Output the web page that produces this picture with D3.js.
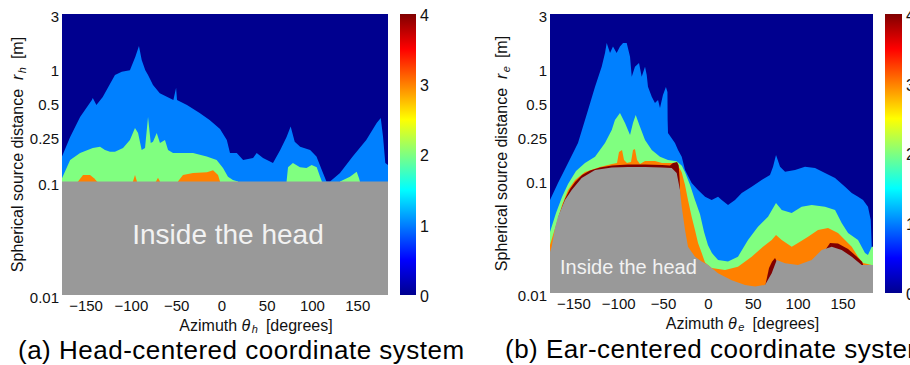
<!DOCTYPE html>
<html>
<head>
<meta charset="utf-8">
<script src="https://cdn.jsdelivr.net/npm/d3@7"></script>
<style>
  body { margin: 0; background: #fff; }
  svg { display: block; }
</style>
</head>
<body>
<svg id="chart" width="910" height="365"></svg>
<script>
// ---------------- data ----------------
const thetaTicks = [-150, -100, -50, 0, 50, 100, 150];
const rTicks = [0.01, 0.1, 0.25, 0.5, 1, 3];
const barTicks = [0, 1, 2, 3, 4];
const thetaRange = [-176, 184];
const rRange = [0.01, 3];

// (a) head-centered: upper edge [azimuth deg, distance m] of each contour band
const headA = [[-176, 0.1], [184, 0.1]];
const blueA = [[-176,0.166],[-167,0.247],[-156,0.371],[-143,0.523],[-142,0.545],[-138,0.473],[-131,0.556],[-117.5,0.87],[-110,0.93],[-101,0.96],[-95,1.26],[-91,1.57],[-88,1.18],[-84,0.96],[-81,0.87],[-75.5,0.71],[-68,0.6],[-53,0.523],[-50,0.67],[-49,0.523],[-38,0.473],[-24,0.402],[-13,0.349],[-1.5,0.29],[6,0.232],[9.5,0.179],[17,0.179],[24,0.155],[35,0.161],[39,0.179],[46,0.161],[57,0.146],[65,0.19],[72,0.247],[76.5,0.305],[81,0.224],[87,0.203],[98,0.19],[105,0.166],[111,0.126],[116,0.1],[120,0.1],[131,0.119],[145,0.166],[160,0.232],[171.5,0.328],[176,0.363],[178.5,0.25],[181,0.146],[184,0.14]];
const greenA = [
  [[-176,0.107],[-167,0.155],[-156,0.179],[-142,0.198],[-134,0.203],[-128.5,0.19],[-123,0.183],[-117.5,0.183],[-108.6,0.198],[-101,0.232],[-95.4,0.297],[-92,0.268],[-88,0.19],[-84.3,0.198],[-81,0.371],[-78,0.219],[-75.5,0.224],[-71.4,0.268],[-67.8,0.219],[-62.3,0.232],[-58.9,0.19],[-53.4,0.179],[-31.3,0.179],[-16.2,0.166],[-5.2,0.155],[1.8,0.132],[7.3,0.11],[12.8,0.103],[18.4,0.1]],
  [[72,0.1],[73.6,0.134],[79,0.146],[86.8,0.134],[94,0.132],[99.7,0.14],[105.3,0.134],[109,0.11],[111,0.1]],
  [[131,0.1],[142,0.11],[149.4,0.122],[152,0.107],[153,0.1]]
];
const orangeA = [
  [[-158.3,0.1],[-152.8,0.114],[-145,0.114],[-140.6,0.107],[-137.3,0.1]],
  [[-97.6,0.1],[-95.4,0.114],[-93.2,0.1]],
  [[-72.2,0.1],[-70,0.108],[-67.8,0.1]],
  [[-48,0.1],[-42.4,0.114],[-31.3,0.119],[-15.9,0.121],[-9.2,0.126],[-3.7,0.114],[-1.5,0.1]]
];

// (b) ear-centered
const headB = [[-176,0.0231],[-174.1,0.0258],[-170.4,0.0378],[-167.1,0.0476],[-159.3,0.0669],[-151.8,0.0821],[-140.7,0.105],[-125.8,0.1236],[-107.2,0.13],[-89.1,0.1314],[-70.1,0.1314],[-51.5,0.13],[-40.4,0.1288],[-34.8,0.1162],[-31.1,0.0821],[-29.2,0.0584],[-25.5,0.0362],[-22.2,0.0258],[-14.4,0.021],[-6.9,0.019],[0.1,0.0177],[11.3,0.015],[26.5,0.013],[41.4,0.0118],[52.5,0.0114],[63.6,0.0118],[71.1,0.015],[76.7,0.0196],[86,0.0184],[100.4,0.0177],[115.7,0.0196],[126.8,0.0241],[138,0.0258],[149.1,0.0241],[160.3,0.021],[171.4,0.0177],[182.6,0.0177],[184,0.0177]];
const blueB = [[-176,0.0669],[-167.1,0.0947],[-155.9,0.1426],[-144.8,0.215],[-133.6,0.421],[-125.8,0.679],[-118.4,1.02],[-114.7,1.35],[-112.8,1.66],[-109.1,1.35],[-105.8,1.54],[-101.7,1.35],[-98,1.54],[-94.6,1.66],[-90.5,1.66],[-86.8,1.25],[-84.9,0.832],[-81.3,1.02],[-76.8,1.1],[-73.8,0.832],[-70.1,1.02],[-68.2,0.862],[-66.8,0.679],[-62.6,0.553],[-59,0.486],[-55.6,0.517],[-53.4,0.439],[-50.1,0.573],[-46.8,0.675],[-45.1,0.609],[-44.9,0.343],[-44.5,0.263],[-36.7,0.215],[-33.3,0.186],[-29.2,0.162],[-25.5,0.1236],[-18.1,0.0947],[-11,0.0821],[-3.2,0.0716],[4.2,0.0669],[11.3,0.0716],[15.4,0.0669],[22.4,0.0604],[30.2,0.0669],[37.7,0.0772],[48.8,0.0879],[59.9,0.1008],[69.2,0.1116],[72.6,0.132],[75.9,0.168],[80.4,0.132],[86,0.1194],[97.1,0.1236],[108.2,0.132],[119.4,0.129],[130.5,0.1162],[141.7,0.105],[152.8,0.0879],[160.3,0.0772],[167.3,0.0716],[172.9,0.0669],[178.4,0.0584],[181.5,0.0445],[182.6,0.0258],[184,0.0226]];
const greenB = [[-176,0.0348],[-169.3,0.0513],[-162.6,0.0712],[-155.9,0.0928],[-147,0.121],[-137,0.1426],[-125.8,0.162],[-114.7,0.215],[-107.2,0.28],[-103.6,0.343],[-98,0.396],[-92.4,0.323],[-86.8,0.253],[-83.5,0.323],[-80.5,0.38],[-75.7,0.3],[-70.1,0.228],[-62.6,0.186],[-53.4,0.162],[-44.5,0.152],[-34.8,0.148],[-29,0.135],[-25.5,0.118],[-19.9,0.091],[-14.4,0.0669],[-8.8,0.05],[-4.3,0.0348],[0.1,0.0266],[4.5,0.0226],[11.3,0.0196],[22.4,0.019],[33.5,0.021],[44.7,0.0295],[55.8,0.0388],[67,0.0476],[75.9,0.063],[82.3,0.0546],[93.4,0.0513],[104.5,0.0584],[115.7,0.0604],[130.5,0.0584],[141.7,0.0546],[149.1,0.0418],[156.2,0.0341],[167.3,0.0295],[175.1,0.0226],[178.4,0.0217],[182.6,0.0258],[184,0.0258]];
const orangeB = [[-176,0.0267],[-169.3,0.0402],[-162.6,0.0604],[-155.9,0.0821],[-148.1,0.1008],[-137,0.1187],[-120.3,0.1314],[-106.9,0.1397],[-101.3,0.1426],[-99.1,0.1786],[-95.7,0.186],[-93.5,0.152],[-90.2,0.1426],[-85.7,0.1456],[-83.5,0.186],[-81.3,0.19],[-79,0.152],[-75.7,0.1397],[-70.1,0.1486],[-59,0.1486],[-51.2,0.1426],[-42.3,0.1426],[-34.8,0.1426],[-29.2,0.118],[-25.5,0.091],[-22.2,0.0669],[-18.1,0.0476],[-14.4,0.0362],[-11,0.0278],[-6.9,0.0226],[-3.2,0.0187],[4.2,0.0167],[19.1,0.016],[33.5,0.0171],[48.8,0.021],[61.4,0.0258],[71.1,0.0295],[75.9,0.0327],[82.3,0.0295],[93.4,0.0258],[100.4,0.0278],[111.6,0.0316],[122.7,0.0362],[133.9,0.0378],[145,0.0341],[152.8,0.0295],[160.3,0.0258],[167.3,0.021],[172.9,0.0185],[182.6,0.0177],[184,0.0177]];
const redB = [
  [[-167.1,0.0463],[-159.3,0.0683],[-153.7,0.0838],[-148.1,0.0967],[-140.3,0.1116],[-131.4,0.1224],[-120.3,0.13],[-106.9,0.1355],[-89.1,0.1383],[-70.1,0.1383],[-51.2,0.137],[-42.3,0.1355],[-38.9,0.1426],[-34.4,0.1456],[-32.6,0.136],[-31.6,0.105],[-31,0.078]],
  [[63.6,0.0113],[68.1,0.0167],[71.4,0.0189],[74.8,0.0205],[77,0.0189]],
  [[131.6,0.0246],[136.1,0.0278],[145,0.0275],[156.2,0.0246],[165.1,0.0213],[171.8,0.0189],[174,0.0169]]
];

// ---------------- styles / layout ----------------
const jet = d3.scaleLinear()
  .domain([0, 0.5, 1.5, 2.5, 3.5, 4])
  .range(['#00008f', '#0000ff', '#00ffff', '#ffff00', '#ff0000', '#800000']);
const headColor = '#999999';
const axisFont = '"Liberation Sans", Arial, sans-serif';
const capFont = '"Liberation Sans", Arial, sans-serif';
const nb = '\u00a0';

const panels = [
  {
    key: 'a', sub: 'h', l: 62, r: 388, t: 14, b: 295, barX: 400, barW: 16,
    ylabX: 23, caption: '(a) Head-centered coordinate system', capX: 18, capY: 359,
    bands: [[blueA], greenA, orangeA, [], [headA]],
    headText: { x: 228, y: 244, size: 28, anchor: 'middle' }
  },
  {
    key: 'b', sub: 'e', l: 550, r: 873, t: 14, b: 293, barX: 885, barW: 17,
    ylabX: 507, caption: '(b) Ear-centered coordinate system', capX: 505, capY: 358,
    bands: [[blueB], [greenB], [orangeB], redB, [headB]],
    headText: { x: 560, y: 274, size: 20, anchor: 'start' }
  }
];
const bandColors = [jet(1), jet(2), jet(3), jet(4), headColor];

const svg = d3.select('#chart');
const defs = svg.append('defs');

// colorbar gradient
const grad = defs.append('linearGradient')
  .attr('id', 'jetGrad')
  .attr('x1', 0).attr('y1', 1).attr('x2', 0).attr('y2', 0);
jet.domain().forEach(v => {
  grad.append('stop').attr('offset', v / 4).attr('stop-color', jet(v));
});

panels.forEach(p => {
  const x = d3.scaleLinear().domain(thetaRange).range([p.l, p.r]);
  const y = d3.scaleLog().domain(rRange).range([p.b, p.t]);

  defs.append('clipPath').attr('id', 'clip-' + p.key)
    .append('rect')
    .attr('x', p.l).attr('y', p.t)
    .attr('width', p.r - p.l).attr('height', p.b - p.t);

  const plot = svg.append('g').attr('clip-path', `url(#clip-${p.key})`);

  // lowest band (0-1) as background
  plot.append('rect')
    .attr('x', p.l).attr('y', p.t)
    .attr('width', p.r - p.l).attr('height', p.b - p.t)
    .attr('fill', jet(0));

  const area = d3.area()
    .x(d => x(d[0]))
    .y0(y(rRange[0]))
    .y1(d => y(d[1]));

  p.bands.forEach((patches, i) => {
    patches.forEach(pts => {
      plot.append('path')
        .attr('d', area(pts))
        .attr('fill', bandColors[i]);
    });
  });

  // text inside the head
  svg.append('text')
    .attr('x', p.headText.x).attr('y', p.headText.y)
    .attr('text-anchor', p.headText.anchor)
    .attr('font-family', capFont)
    .attr('font-size', p.headText.size)
    .attr('fill', '#f2f2f2')
    .text('Inside the head');

  // x axis
  const xAxis = svg.append('g')
    .attr('transform', `translate(0,${p.b})`)
    .call(d3.axisBottom(x).tickValues(thetaTicks).tickSize(0).tickPadding(5).tickFormat(d3.format('d')));
  xAxis.select('.domain').remove();
  xAxis.selectAll('text')
    .attr('font-family', axisFont).attr('font-size', 15).attr('fill', '#111');

  // y axis
  const yAxis = svg.append('g')
    .attr('transform', `translate(${p.l},0)`)
    .call(d3.axisLeft(y).tickValues(rTicks).tickSize(0).tickPadding(3).tickFormat(d => String(d)));
  yAxis.select('.domain').remove();
  yAxis.selectAll('text')
    .attr('font-family', axisFont).attr('font-size', 15).attr('fill', '#111')
    .attr('dy', '0.5em');

  // x label
  const xl = svg.append('text')
    .attr('x', (p.l + p.r) / 2 + 31).attr('y', p.b + 36)
    .attr('text-anchor', 'middle')
    .attr('font-family', axisFont).attr('font-size', 16).attr('fill', '#111');
  xl.append('tspan').text('Azimuth' + nb);
  xl.append('tspan').attr('font-style', 'italic').text('θ');
  xl.append('tspan').attr('font-style', 'italic').attr('font-size', 11).attr('dx', 1.5).attr('dy', 2).text(p.sub);
  xl.append('tspan').attr('dx', 8).attr('dy', -2).text('[degrees]');

  // y label
  const yl = svg.append('text')
    .attr('transform', `translate(${p.ylabX},${(p.t + p.b) / 2}) rotate(-90)`)
    .attr('text-anchor', 'middle')
    .attr('font-family', axisFont).attr('font-size', 16).attr('fill', '#111');
  yl.append('tspan').text('Spherical source distance' + nb + nb);
  yl.append('tspan').attr('font-style', 'italic').text('r');
  yl.append('tspan').attr('font-style', 'italic').attr('font-size', 11).attr('dx', 1.5).attr('dy', 3).text(p.sub);
  yl.append('tspan').attr('dx', 8).attr('dy', -3).text('[m]');

  // colorbar
  const c = d3.scaleLinear().domain([0, 4]).range([p.b, p.t]);
  svg.append('rect')
    .attr('x', p.barX).attr('y', p.t)
    .attr('width', p.barW).attr('height', p.b - p.t)
    .attr('fill', 'url(#jetGrad)');
  const cAxis = svg.append('g')
    .attr('transform', `translate(${p.barX + p.barW},0)`)
    .call(d3.axisRight(c).tickValues(barTicks).tickSize(0).tickPadding(4).tickFormat(d3.format('d')));
  cAxis.select('.domain').remove();
  cAxis.selectAll('text')
    .attr('font-family', axisFont).attr('font-size', 16).attr('fill', '#111')
    .attr('dy', '0.4em');

  // caption
  svg.append('text')
    .attr('x', p.capX).attr('y', p.capY)
    .attr('font-family', capFont).attr('font-size', 26)
    .attr('letter-spacing', 0.5)
    .attr('fill', '#000')
    .text(p.caption);
});
</script>
</body>
</html>
